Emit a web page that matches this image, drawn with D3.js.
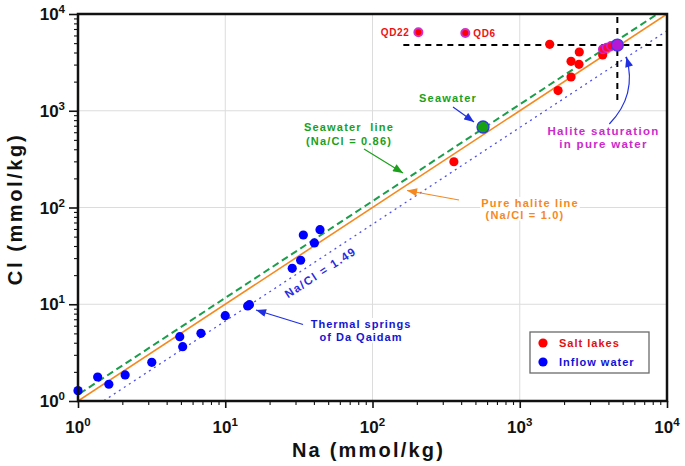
<!DOCTYPE html>
<html>
<head>
<meta charset="utf-8">
<script src="https://cdn.jsdelivr.net/npm/d3@7"></script>
<style>
  html, body { margin: 0; padding: 0; background: #fff; overflow: hidden; }
  svg { display: block; }
  svg text { font-family: "Liberation Sans", Arial, sans-serif; font-weight: bold; white-space: pre; }
</style>
</head>
<body>
<svg></svg>
<script>
const width = 685, height = 466;
const margin = { top: 14, right: 18, bottom: 65, left: 78 };
const innerWidth = width - margin.left - margin.right;
const innerHeight = height - margin.top - margin.bottom;

// data, [Na, Cl] in mmol/kg
const inflowWater = [
  [1.0, 1.28], [1.36, 1.77], [1.62, 1.49], [2.09, 1.86], [3.17, 2.51],
  [4.91, 4.62], [5.14, 3.64], [6.84, 5.01], [10.0, 7.62], [14.2, 9.59],
  [14.6, 9.89], [28.5, 23.5], [32.5, 28.5], [33.9, 52.0], [40.3, 43.0], [44.0, 59.0]
];
const saltLakes = [
  [1597, 4861], [2537, 4049], [2230, 3245], [2525, 3020], [2230, 2233],
  [1820, 1618], [357, 297], [3658, 3768]
];
const nearSaturation = [[3673, 4317], [3894, 4486], [4167, 4670]];
const namedLakes = [
  { name: "QD22", na: 205, cl: 6470 },
  { name: "QD6", na: 427, cl: 6365 }
];
const seawater = [563, 679];
const haliteSaturation = [4600, 4780];
const ratioLines = [
  { ratio: 0.86, color: "#1a9e4a", dash: "7,4", width: 2 },
  { ratio: 1.0, color: "#f5891f", dash: null, width: 1.6 },
  { ratio: 1.49, color: "#5050ee", dash: "2,4", width: 1.3 }
];
const decades = [1, 10, 100, 1000, 10000];

const svg = d3.select("svg")
    .attr("width", width)
    .attr("height", height);

const defs = svg.append("defs");
defs.append("clipPath").attr("id", "plot-clip")
  .append("rect").attr("width", innerWidth).attr("height", innerHeight);

const addMarker = (id, color) => {
  defs.append("marker")
      .attr("id", id)
      .attr("viewBox", "0 0 10 8")
      .attr("refX", 10).attr("refY", 4)
      .attr("markerWidth", 11).attr("markerHeight", 8)
      .attr("markerUnits", "userSpaceOnUse")
      .attr("orient", "auto")
    .append("path")
      .attr("d", "M0,0 L10,4 L0,8 Z")
      .attr("fill", color);
};
addMarker("arrow-blue", "#2030e0");
addMarker("arrow-green", "#1aa01a");
addMarker("arrow-orange", "#f5891f");

const g = svg.append("g")
    .attr("transform", `translate(${margin.left},${margin.top})`);

const x = d3.scaleLog().domain([1, 1e4]).range([0, innerWidth]);
const y = d3.scaleLog().domain([1, 1e4]).range([innerHeight, 0]);

// grid
const grid = g.append("g");
grid.selectAll(".vgrid")
  .data(decades.slice(1, -1))
  .enter().append("line")
    .attr("x1", d => x(d)).attr("x2", d => x(d))
    .attr("y1", 0).attr("y2", innerHeight)
    .attr("stroke", "#dcdcdc");
grid.selectAll(".hgrid")
  .data(decades.slice(1, -1))
  .enter().append("line")
    .attr("y1", d => y(d)).attr("y2", d => y(d))
    .attr("x1", 0).attr("x2", innerWidth)
    .attr("stroke", "#dcdcdc");

// ratio lines
const line = d3.line().x(d => x(d[0])).y(d => y(d[1]));
const lines = g.append("g").attr("clip-path", "url(#plot-clip)");
ratioLines.forEach(r => {
  lines.append("path")
      .datum([[0.5, 0.5 / r.ratio], [2e4, 2e4 / r.ratio]])
      .attr("fill", "none")
      .attr("stroke", r.color)
      .attr("stroke-width", r.width)
      .attr("stroke-dasharray", r.dash)
      .attr("d", line);
});

// crosshair at halite saturation
const hx = x(haliteSaturation[0]), hy = y(haliteSaturation[1]);
g.append("line")
    .attr("x1", hx).attr("x2", hx).attr("y1", 3).attr("y2", hy + 56)
    .attr("stroke", "#000").attr("stroke-width", 2).attr("stroke-dasharray", "6,5");
g.append("line")
    .attr("x1", hx - 214).attr("x2", innerWidth).attr("y1", hy).attr("y2", hy)
    .attr("stroke", "#000").attr("stroke-width", 2).attr("stroke-dasharray", "6,5");

// annotations
const notes = g.append("g");
const addText = (lines, cx, y0, dy, color, size, spacing, anchor = "middle", bg = true) => {
  const grp = notes.append("g");
  const t = grp.append("text")
      .attr("fill", color)
      .attr("font-size", size)
      .style("letter-spacing", spacing + "px")
      .attr("text-anchor", anchor);
  lines.forEach((s, i) => {
    t.append("tspan").attr("x", cx).attr("y", y0 + i * dy).text(s);
  });
  if (bg) {
    const b = t.node().getBBox();
    grp.insert("rect", "text")
        .attr("x", b.x - 1).attr("y", b.y)
        .attr("width", b.width + 2).attr("height", b.height)
        .attr("fill", "#fff");
  }
  return grp;
};
const ox = margin.left, oy = margin.top;

addText(["Seawater  line", "(Na/Cl = 0.86)"], 349 - ox, 131 - oy, 13.5, "#1aa01a", 11, 1.2);
addText(["Pure halite line"], 530 - ox, 207 - oy, 0, "#f5891f", 11, 1.2);
addText(["(Na/Cl = 1.0)"], 525 - ox, 218.5 - oy, 0, "#f5891f", 11, 1.2);
addText(["Thermal springs", "of Da Qaidam"], 361 - ox, 328 - oy, 12.5, "#1515d0", 11, 1);
addText(["Halite saturation", "in pure water"], 603.5 - ox, 134.5 - oy, 13, "#cc2acc", 11.5, 1.3, "middle", false);
addText(["Seawater"], 448 - ox, 102 - oy, 0, "#1aa01a", 11, 1.2, "middle", false);

notes.append("text")
    .attr("transform", `translate(${320.5 - ox},${272.5 - oy}) rotate(-33.3)`)
    .attr("text-anchor", "middle")
    .attr("dominant-baseline", "central")
    .attr("fill", "#2a2ae0")
    .attr("font-size", 11.5)
    .style("letter-spacing", "1.5px")
    .text("Na/Cl = 1.49");

// arrows
const sx = x(seawater[0]), sy = y(seawater[1]);
notes.append("line")
    .attr("x1", sx - 30).attr("y1", sy - 20).attr("x2", sx - 9).attr("y2", sy - 5)
    .attr("stroke", "#2030e0").attr("stroke-width", 1.2).attr("marker-end", "url(#arrow-blue)");
notes.append("line")
    .attr("x1", 364 - ox).attr("y1", 149 - oy).attr("x2", 403 - ox).attr("y2", 173 - oy)
    .attr("stroke", "#1aa01a").attr("stroke-width", 1.2).attr("marker-end", "url(#arrow-green)");
notes.append("line")
    .attr("x1", 459 - ox).attr("y1", 200 - oy).attr("x2", 407 - ox).attr("y2", 190.5 - oy)
    .attr("stroke", "#f5891f").attr("stroke-width", 1.2).attr("marker-end", "url(#arrow-orange)");
notes.append("line")
    .attr("x1", 303 - ox).attr("y1", 324.5 - oy).attr("x2", 256 - ox).attr("y2", 310 - oy)
    .attr("stroke", "#2030e0").attr("stroke-width", 1.2).attr("marker-end", "url(#arrow-blue)");
notes.append("path")
    .attr("d", `M${hx - 8},${hy + 79} Q${hx + 20},${hy + 50} ${hx + 9},${hy + 12}`)
    .attr("fill", "none")
    .attr("stroke", "#2030e0").attr("stroke-width", 1.2).attr("marker-end", "url(#arrow-blue)");

// points
const pts = g.append("g");
pts.selectAll(".inflow")
  .data(inflowWater)
  .enter().append("circle")
    .attr("cx", d => x(d[0])).attr("cy", d => y(d[1])).attr("r", 4.6)
    .attr("fill", "#0000ff");
pts.selectAll(".lake")
  .data(saltLakes)
  .enter().append("circle")
    .attr("cx", d => x(d[0])).attr("cy", d => y(d[1])).attr("r", 4.6)
    .attr("fill", "#ff0000");
pts.selectAll(".nearsat")
  .data(nearSaturation)
  .enter().append("circle")
    .attr("cx", d => x(d[0])).attr("cy", d => y(d[1])).attr("r", 4.2)
    .attr("fill", "#ff0a2a").attr("stroke", "#cc22dd").attr("stroke-width", 1.6);
pts.append("circle")
    .attr("cx", hx).attr("cy", hy).attr("r", 6)
    .attr("fill", "#b21ad6").attr("stroke", "#3a3af0").attr("stroke-width", 1.2);
pts.selectAll(".named")
  .data(namedLakes)
  .enter().append("circle")
    .attr("cx", d => x(d.na)).attr("cy", d => y(d.cl)).attr("r", 4)
    .attr("fill", "#ff0000").attr("stroke", "#cc33cc").attr("stroke-width", 2);
pts.selectAll(".named-label")
  .data(namedLakes)
  .enter().append("text")
    .attr("x", (d, i) => x(d.na) + (i === 0 ? -9 : 8))
    .attr("y", d => y(d.cl) + 3.8)
    .attr("text-anchor", (d, i) => i === 0 ? "end" : "start")
    .attr("fill", "#ee1111")
    .attr("font-size", 10)
    .style("letter-spacing", "0.6px")
    .text(d => d.name);
pts.append("circle")
    .attr("cx", sx).attr("cy", sy).attr("r", 6)
    .attr("fill", "#16a016").attr("stroke", "#2a3ae0").attr("stroke-width", 1.3);

// legend
const legend = g.append("g").attr("transform", `translate(${530 - ox},${332 - oy})`);
legend.append("rect")
    .attr("width", 119).attr("height", 41)
    .attr("fill", "#fff").attr("stroke", "#6a6a6a").attr("stroke-width", 1.3);
[["Salt lakes", "#ff0000", "#e01010"], ["Inflow water", "#0000ff", "#1010d8"]].forEach((e, i) => {
  legend.append("circle").attr("cx", 13).attr("cy", 11 + i * 19).attr("r", 4.6).attr("fill", e[1]);
  legend.append("text")
      .attr("x", 29).attr("y", 15 + i * 19)
      .attr("fill", e[2]).attr("font-size", 11)
      .style("letter-spacing", "1px")
      .text(e[0]);
});

// frame
g.append("rect")
    .attr("width", innerWidth).attr("height", innerHeight)
    .attr("fill", "none").attr("stroke", "#111").attr("stroke-width", 2.5);

// axes
const allTicks = [];
decades.slice(0, -1).forEach(d => { for (let k = 1; k < 10; k++) allTicks.push(d * k); });
allTicks.push(1e4);
const isMajor = v => decades.includes(v);

const xAxis = d3.axisBottom(x).tickValues(allTicks).tickSize(4).tickSizeOuter(0).tickFormat("");
const yAxis = d3.axisLeft(y).tickValues(allTicks).tickSize(4).tickSizeOuter(0).tickFormat("");

const gx = g.append("g").attr("transform", `translate(0,${innerHeight})`).call(xAxis);
const gy = g.append("g").call(yAxis);
[gx, gy].forEach(a => {
  a.select(".domain").remove();
  a.selectAll(".tick line").attr("stroke", "#111").attr("stroke-width", 1.1);
});
gx.selectAll(".tick").filter(isMajor).select("line").attr("y2", 7).attr("stroke-width", 1.6);
gy.selectAll(".tick").filter(isMajor).select("line").attr("x2", -9).attr("stroke-width", 1.6);

const power = v => Math.round(Math.log10(v));
const xl = g.append("g").selectAll("text")
  .data(decades).enter().append("text")
    .attr("x", d => x(d)).attr("y", innerHeight + 32)
    .attr("text-anchor", "middle")
    .attr("font-size", 17).attr("fill", "#111");
xl.append("tspan").text("10");
xl.append("tspan").attr("font-size", 11.5).attr("dy", -7).text(d => power(d));

const yl = g.append("g").selectAll("text")
  .data(decades).enter().append("text")
    .attr("x", -13).attr("y", d => y(d) + 6)
    .attr("text-anchor", "end")
    .attr("font-size", 17).attr("fill", "#111");
yl.append("tspan").text("10");
yl.append("tspan").attr("font-size", 11.5).attr("dy", -7).text(d => power(d));

g.append("text")
    .attr("x", innerWidth / 2 - 4).attr("y", innerHeight + 55.5)
    .attr("text-anchor", "middle")
    .attr("font-size", 20).attr("fill", "#111")
    .style("letter-spacing", "2.2px")
    .text("Na (mmol/kg)");
g.append("text")
    .attr("transform", `translate(${-56},${195}) rotate(-90)`)
    .attr("text-anchor", "middle")
    .attr("font-size", 20).attr("fill", "#111")
    .style("letter-spacing", "2.6px")
    .text("Cl (mmol/kg)");
</script>
</body>
</html>
